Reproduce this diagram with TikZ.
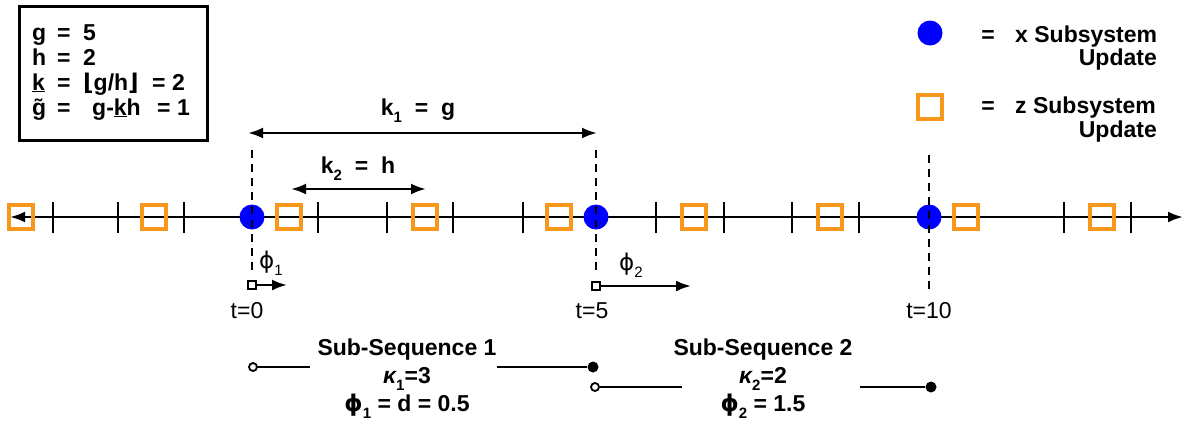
\documentclass[tikz,border=0pt]{standalone}
\usepackage{fontspec}
\setmainfont{Liberation Sans}
\newfontfamily\dv{DejaVu Sans}
\usetikzlibrary{arrows.meta}
\definecolor{zorange}{RGB}{247,152,29}
\definecolor{xblue}{RGB}{0,0,255}
\newcommand{\lowsub}[1]{\raisebox{-0.32em}{\fontsize{15}{15}\selectfont #1}}
\newcommand{\ph}{{\dv ϕ}}
\begin{document}
\begin{tikzpicture}[x=1pt,y=-1pt,
  every node/.style={inner sep=0pt, font=\fontsize{23}{25}\selectfont},
  bt/.style={font=\fontsize{23}{25}\selectfont\bfseries},
  xdot/.style={circle, fill=xblue, minimum size=25pt, inner sep=0pt},
  zsq/.style={draw=zorange, line width=3.4pt, minimum size=24pt},
  smsq/.style={draw, line width=1.8pt, fill=white, minimum size=8pt},
  ocirc/.style={circle, draw, line width=1.8pt, fill=white, minimum size=8pt},
  fcirc/.style={circle, fill=black, minimum size=11pt},
  tickln/.style={line width=2.6pt},
  guide/.style={line width=2.6pt, dash pattern=on 8pt off 6pt},
  arr/.style={line width=2.4pt, -{Latex[length=15pt,width=11pt]}},
  darr/.style={line width=2.6pt, {Latex[length=15pt,width=11pt]}-{Latex[length=15pt,width=11pt]}},
  seg/.style={line width=2.4pt}
]
\useasboundingbox (0,0) rectangle (1190,426);

% parameter box
\draw[line width=3pt] (19,6) rectangle (207,140);
\node[bt, anchor=base west] (g1) at (32,40) {g};
\node[bt, anchor=base west] (g2) at (57,40) {=};
\node[bt, anchor=base west] (g3) at (83,40) {5};
\node[bt, anchor=base west] (h1) at (32,65) {h};
\node[bt, anchor=base west] (h2) at (57,65) {=};
\node[bt, anchor=base west] (h3) at (83,65) {2};
\node[bt, anchor=base west] (k1) at (32,90) {\underline{k}};
\node[bt, anchor=base west] (k2) at (57,90) {=};
\node[bt, anchor=base west] (k3) at (83,90) {{\dv ⌊}g/h{\dv ⌋}};
\node[bt, anchor=base west] (k4) at (152,90) {= 2};
\node[bt, anchor=base west] (t1) at (32,115) {\~{g}};
\node[bt, anchor=base west] (t2) at (57,115) {=};
\node[bt, anchor=base west] (t3) at (92,115) {g-\underline{k}h};
\node[bt, anchor=base west] (t4) at (157,115) {= 1};

% legend
\node[xdot] (lx) at (930,33) {};
\node[bt, anchor=base] (lxe) at (988,42) {=};
\node[bt, anchor=base west] (lxt) at (1015,42) {x Subsystem};
\node[bt, anchor=base east] (lxu) at (1157,65) {Update};
\node[zsq] (lz) at (930,107) {};
\node[bt, anchor=base] (lze) at (988,113) {=};
\node[bt, anchor=base west] (lzt) at (1015,113) {z Subsystem};
\node[bt, anchor=base east] (lzu) at (1157,137) {Update};

% timeline
\coordinate (tl) at (10,217);
\coordinate (tr) at (1183,217);
\draw[darr] (tl) -- (tr);
\foreach \x in {53,118,184,318,387,453,523,656,724,792,859,1064,1131}
  \draw[tickln] (\x,202) -- (\x,233);

% x updates
\node[xdot] (x0) at (252,217) {};
\node[xdot] (x5) at (596,217) {};
\node[xdot] (x10) at (929,217) {};

% markers
\node[smsq] (m0) at (252,285) {};
\node[smsq] (m5) at (596,286) {};
\coordinate (d0) at (252,150);
\coordinate (d5) at (596,150);
\coordinate (d10) at (929,155);
\coordinate (d10b) at (929,290);
\draw[guide] (d0) -- ([yshift=6pt]m0.north);
\draw[guide] (d5) -- ([yshift=6pt]m5.north);
\draw[guide] (d10) -- (d10b);

% z updates
\foreach \x [count=\i] in {21,154,289,425,559,694,830,966,1102}
  \node[zsq] (z\i) at (\x,217) {};

% phi arrows
\coordinate (p0) at (287,285);
\coordinate (p5) at (691,286);
\draw[arr] (m0.east) -- (p0);
\draw[arr] (m5.east) -- (p5);
\node[anchor=base west] (ph1) at (259,268) {\ph\lowsub{1}};
\node[anchor=base west] (ph2) at (619,270) {\ph\lowsub{2}};
\node[anchor=base] (lt0) at (247,318) {t=0};
\node[anchor=base] (lt5) at (592,318) {t=5};
\node[anchor=base] (lt10) at (929,318) {t=10};

% k arrows
\coordinate (ka) at (248,133);
\coordinate (kb) at (597,133);
\draw[darr] (ka) -- (kb);
\node[bt, anchor=base] (kl1) at (418,115) {k\lowsub{1}\ \ =\ \ g};
\coordinate (kc) at (291,189);
\coordinate (kd) at (426,189);
\draw[darr] (kc) -- (kd);
\node[bt, anchor=base] (kl2) at (358,173) {k\lowsub{2}\ \ =\ \ h};

% sub-sequence 1
\node[ocirc] (a1) at (253,367) {};
\coordinate (a2) at (310,367);
\draw[seg] (a1) -- (a2);
\coordinate (b1) at (497,367);
\node[fcirc] (b2) at (593,367) {};
\draw[seg] (b1) -- (b2);
\node[bt, anchor=base] (s1a) at (407,355) {Sub-Sequence 1};
\node[bt, anchor=base] (s1b) at (407,383) {{\itshape κ}\lowsub{1}=3};
\node[bt, anchor=base] (s1c) at (407,411) {\ph\lowsub{1} = d = 0.5};

% sub-sequence 2
\node[ocirc] (c1) at (595,387) {};
\coordinate (c2) at (682,387);
\draw[seg] (c1) -- (c2);
\coordinate (e1) at (860,387);
\node[fcirc] (e2) at (931,387) {};
\draw[seg] (e1) -- (e2);
\node[bt, anchor=base] (s2a) at (763,355) {Sub-Sequence 2};
\node[bt, anchor=base] (s2b) at (763,383) {{\itshape κ}\lowsub{2}=2};
\node[bt, anchor=base] (s2c) at (763,411) {\ph\lowsub{2} = 1.5};
\end{tikzpicture}
\end{document}
